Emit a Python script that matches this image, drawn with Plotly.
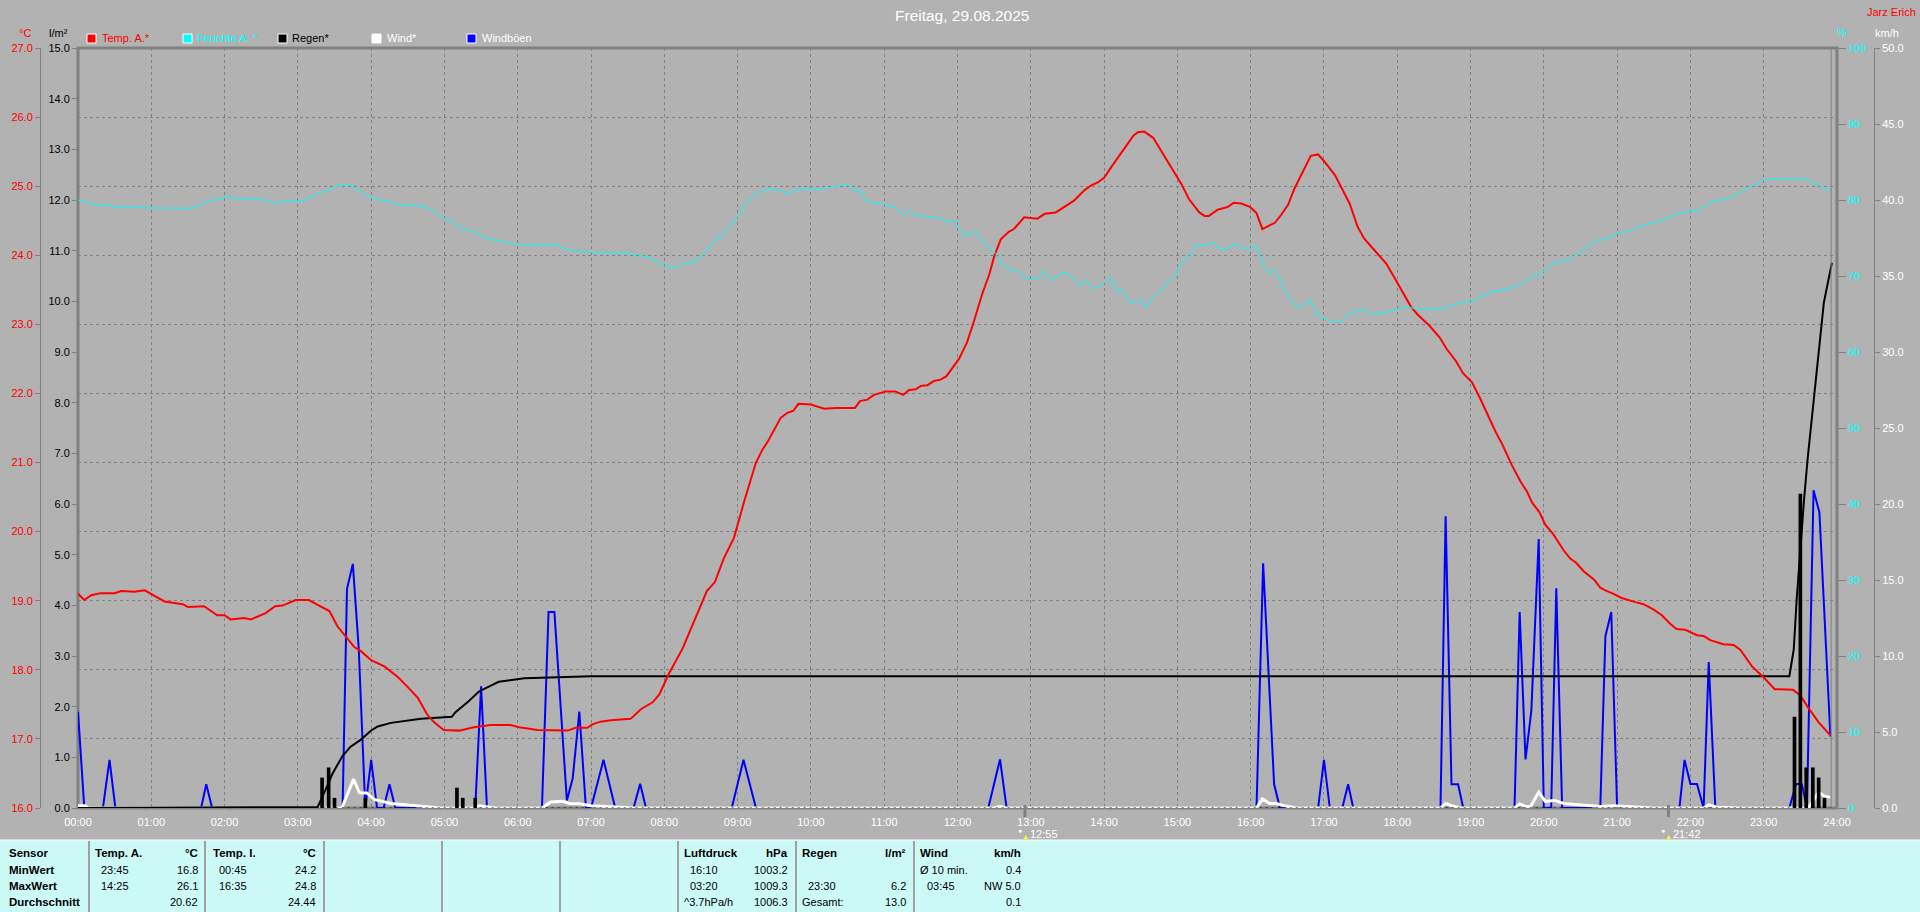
import plotly.graph_objects as go

TITLE = "Freitag, 29.08.2025"
OWNER = "Jarz Erich"
HOUR_TICKS = list(range(25))
HOUR_LABELS = [f"{h:02d}:00" for h in HOUR_TICKS]

temp_h = [0,0.086,0.18,0.31,0.5,0.59,0.77,0.91,1.18,1.43,1.5,1.72,1.9,2.0,2.08,2.27,2.36,2.56,2.69,2.79,2.97,3.15,3.27,3.43,3.54,3.63,3.77,3.86,4.0,4.18,4.36,4.5,4.64,4.76,4.86,4.99,5.2,5.4,5.63,5.9,6.02,6.27,6.68,6.79,6.95,7.02,7.13,7.27,7.54,7.68,7.84,7.93,8.06,8.25,8.38,8.52,8.58,8.69,8.81,8.95,9.09,9.25,9.34,9.41,9.59,9.68,9.76,9.83,10.0,10.18,10.34,10.6,10.67,10.77,10.86,11.02,11.15,11.26,11.34,11.43,11.5,11.59,11.68,11.77,11.85,12.02,12.13,12.22,12.34,12.43,12.5,12.59,12.7,12.77,12.91,13.09,13.19,13.34,13.59,13.73,13.82,13.92,14.0,14.1,14.26,14.4,14.46,14.55,14.67,14.76,14.87,14.96,15.05,15.16,15.3,15.37,15.43,15.55,15.69,15.77,15.87,15.99,16.08,16.16,16.33,16.42,16.51,16.6,16.71,16.82,16.92,17.01,17.15,17.26,17.35,17.46,17.55,17.65,17.78,17.85,17.96,18.1,18.19,18.28,18.44,18.58,18.67,18.8,18.9,19.02,19.13,19.34,19.43,19.56,19.68,19.77,19.84,19.94,20.02,20.13,20.27,20.36,20.44,20.54,20.69,20.77,20.84,20.95,21.06,21.25,21.36,21.5,21.61,21.72,21.81,21.93,22.09,22.18,22.27,22.45,22.59,22.68,22.84,23.0,23.15,23.4,23.5,23.61,23.75,23.91]
temp_c = [19.10,19.01,19.08,19.11,19.11,19.14,19.13,19.15,18.99,18.95,18.91,18.92,18.79,18.79,18.73,18.75,18.73,18.82,18.92,18.93,19.01,19.01,18.94,18.85,18.63,18.51,18.33,18.27,18.14,18.05,17.9,17.75,17.59,17.36,17.24,17.13,17.12,17.17,17.2,17.2,17.17,17.13,17.12,17.16,17.16,17.21,17.25,17.27,17.29,17.43,17.53,17.64,17.94,18.31,18.64,18.99,19.14,19.27,19.61,19.91,20.44,21.0,21.19,21.3,21.65,21.72,21.75,21.85,21.84,21.78,21.79,21.79,21.89,21.91,21.98,22.03,22.03,21.98,22.05,22.06,22.11,22.12,22.18,22.2,22.25,22.5,22.74,23.03,23.45,23.71,23.98,24.23,24.34,24.38,24.55,24.53,24.6,24.62,24.79,24.94,25.01,25.06,25.12,25.28,25.52,25.73,25.78,25.79,25.7,25.54,25.36,25.19,25.04,24.81,24.62,24.57,24.57,24.66,24.7,24.76,24.75,24.7,24.61,24.38,24.47,24.59,24.73,24.97,25.2,25.44,25.46,25.35,25.16,24.94,24.75,24.41,24.24,24.12,23.97,23.88,23.68,23.42,23.25,23.14,22.98,22.81,22.65,22.47,22.29,22.16,21.93,21.45,21.27,20.97,20.73,20.58,20.42,20.28,20.1,19.96,19.73,19.61,19.55,19.43,19.3,19.19,19.15,19.1,19.04,18.98,18.95,18.87,18.79,18.67,18.59,18.58,18.5,18.49,18.43,18.37,18.36,18.29,18.05,17.89,17.72,17.71,17.63,17.45,17.24,17.05]

hum_h = [0,0.18,0.36,0.63,1.0,1.54,1.81,2.06,2.18,2.52,2.65,2.86,3.07,3.27,3.61,3.72,4.0,4.2,4.38,4.68,4.81,5.02,5.22,5.43,5.59,5.86,6.02,6.52,6.63,6.86,7.22,7.61,7.81,8.0,8.15,8.27,8.36,8.5,8.7,8.79,9.0,9.09,9.22,9.34,9.54,9.68,9.88,10.18,10.5,10.59,10.67,10.76,11.02,11.15,11.26,11.34,11.43,11.52,11.61,11.7,11.86,11.95,12.09,12.25,12.34,12.52,12.59,12.75,12.82,12.93,13.0,13.11,13.18,13.27,13.45,13.56,13.67,13.75,13.84,13.95,14.09,14.17,14.25,14.34,14.51,14.57,14.67,14.76,14.85,14.99,15.07,15.16,15.25,15.44,15.51,15.59,15.67,15.8,15.9,15.99,16.07,16.17,16.25,16.33,16.46,16.59,16.67,16.81,16.92,17.05,17.24,17.35,17.55,17.68,17.85,18.1,18.4,18.65,18.86,19.0,19.13,19.29,19.56,19.7,19.84,19.95,20.13,20.34,20.54,20.72,20.84,21.0,21.2,21.4,21.59,21.77,21.88,22.09,22.29,22.59,22.81,23.02,23.27,23.5,23.63,23.77,23.91]
hum_pct = [80.0,79.5,79.3,79.06,78.95,78.9,79.9,80.5,80.2,80.1,79.6,79.87,79.87,80.8,82.07,81.9,80.35,79.87,79.4,79.17,78.85,77.5,76.4,75.7,74.9,74.4,74.1,74.06,73.6,73.2,73.04,72.9,72.35,71.4,71.05,71.8,71.7,72.5,74.8,75.3,77.8,79.2,80.6,81.3,81.4,80.9,81.5,81.5,82.1,81.2,81.4,79.8,79.4,79.06,78.0,78.6,77.9,78.0,77.7,77.9,77.2,77.3,75.3,75.9,74.4,73.04,71.7,70.6,70.6,69.65,69.5,69.8,70.7,69.45,70.4,69.9,68.75,69.5,68.3,68.7,69.8,68.05,68.2,66.5,66.75,65.9,67.2,67.9,69.05,70.3,72.0,72.45,74.1,74.15,74.4,73.4,73.6,74.2,73.6,73.6,74.05,71.6,70.3,70.8,68.2,66.3,65.8,66.9,64.8,64.2,63.9,65.1,65.6,64.9,65.2,65.9,65.6,65.8,66.55,66.6,67.25,67.9,68.45,69.05,70.0,70.26,71.6,72.2,73.4,74.7,74.8,75.55,76.1,76.8,77.25,78.05,78.35,78.6,79.7,80.5,81.7,82.7,82.8,82.8,82.55,81.9,81.2]

rain_h = [0,3.27,3.4,3.47,3.61,3.72,3.86,4.0,4.09,4.27,4.68,5.1,5.15,5.31,5.47,5.63,5.74,6.09,6.45,7.0,23.35,23.41,23.45,23.48,23.52,23.55,23.6,23.65,23.71,23.77,23.82,23.88,23.93]
rain_mm = [0,0.02,0.43,0.67,1.03,1.21,1.35,1.53,1.61,1.68,1.76,1.8,1.89,2.08,2.3,2.42,2.49,2.56,2.58,2.6,2.6,3.13,4.12,4.73,5.59,6.08,6.9,7.64,8.45,9.27,9.97,10.38,10.76]

rainbar_h = [3.33,3.42,3.5,3.92,5.17,5.25,5.42,23.42,23.5,23.58,23.67,23.75,23.83]
rainbar_mm = [0.6,0.8,0.2,0.2,0.4,0.2,0.2,1.8,6.2,0.8,0.8,0.6,0.2]

gust_h = [0,0.086,0.34,0.43,0.51,1.68,1.75,1.83,3.61,3.67,3.75,3.83,3.92,4.0,4.08,4.17,4.25,4.33,5.42,5.5,5.58,6.33,6.42,6.5,6.67,6.75,6.84,6.93,7.0,7.17,7.33,7.58,7.67,7.75,8.92,9.08,9.25,12.42,12.58,12.67,16.08,16.17,16.32,16.4,16.92,17.0,17.08,17.25,17.33,17.4,18.59,18.66,18.74,18.83,18.9,19.6,19.67,19.75,19.83,19.93,20.0,20.1,20.17,20.25,20.77,20.84,20.92,21.0,21.85,21.92,22.0,22.09,22.18,22.25,22.34,23.35,23.44,23.52,23.59,23.68,23.76,23.91]
gust_kmh = [6.34,0,0,3.17,0,0,1.56,0,0,14.4,16.06,10.5,0,3.17,0,0,1.56,0,0,8.0,0,0,12.9,12.9,0.5,1.96,6.34,0,0,3.17,0,0,1.6,0,0,3.17,0,0,3.2,0,0,16.1,1.56,0,0,3.17,0,0,1.56,0,0,19.2,1.56,1.56,0,0,12.9,3.2,6.4,17.7,0,0,14.46,0,0,11.3,12.9,0,0,3.16,1.58,1.58,0,9.6,0,0,1.58,1.58,0,20.9,19.45,4.7]

wind_h = [0,0.1,0.14,3.6,3.76,3.84,3.94,4.04,4.27,4.58,4.95,5.4,5.47,5.7,6.33,6.45,6.62,6.7,6.84,7.0,7.18,7.6,12.5,12.58,12.66,16.08,16.16,16.26,16.35,16.46,16.62,18.59,18.66,18.74,18.85,19.6,19.67,19.75,19.82,19.93,20.02,20.15,20.27,20.5,20.77,20.95,21.5,22.18,22.25,22.36,22.68,23.61,23.75,23.82,23.91]
wind_kmh = [0.15,0.15,0,0,1.9,1.0,0.99,0.57,0.3,0.15,0,0,0.15,0,0,0.4,0.45,0.3,0.28,0.15,0.1,0,0,0.1,0,0,0.6,0.3,0.3,0.15,0,0,0.3,0.15,0,0,0.27,0.1,0.1,1.04,0.44,0.5,0.3,0.2,0.1,0.15,0,0,0.2,0.05,0,0,1.04,0.8,0.7]

LEGEND_NAMES = ["Temp. A.*", "Feuchte A. *", "Regen*", "Wind*", "Windböen"]
LEGEND_FILL = ["#ff0000", "#00ffff", "#000000", "#ffffff", "#0000ff"]
LEGEND_TEXT = ["#ff0000", "#00ffff", "#000000", "#ffffff", "#ffffff"]

TABLE_LABELS = ["Sensor", "MinWert", "MaxWert", "Durchschnitt"]
COL_TEMP_A = ["Temp. A.", "23:45", "14:25", ""]
VAL_TEMP_A = ["°C", "16.8", "26.1", "20.62"]
COL_TEMP_I = ["Temp. I.", "00:45", "16:35", ""]
VAL_TEMP_I = ["°C", "24.2", "24.8", "24.44"]
COL_PRESS = ["Luftdruck", "16:10", "03:20", "^3.7hPa/h"]
VAL_PRESS = ["hPa", "1003.2", "1009.3", "1006.3"]
COL_RAIN = ["Regen", "", "23:30", "Gesamt:"]
VAL_RAIN = ["l/m²", "", "6.2", "13.0"]
COL_WIND = ["Wind", "Ø 10 min.", "03:45", ""]
VAL_WIND = ["km/h", "0.4", "NW 5.0", "0.1"]

W, H = 1920, 912
L, R, T, B = 78, 1837, 48, 808
BG, GRAY, PANEL = "#b2b2b2", "#808080", "#ccfbf7"
FONT = "Liberation Sans"
px = lambda v: v / W
py = lambda v: 1 - v / H

fig = go.Figure()
fig.add_trace(go.Scatter(x=gust_h, y=gust_kmh, name="Windböen", yaxis="y", mode="lines", cliponaxis=False,
                         line=dict(color="#0000ff", width=2)))
fig.add_trace(go.Scatter(x=wind_h, y=wind_kmh, name="Wind", yaxis="y", mode="lines", cliponaxis=False,
                         line=dict(color="#ffffff", width=3)))
fig.add_trace(go.Scatter(x=rain_h, y=rain_mm, name="Regen", yaxis="y2", mode="lines", cliponaxis=False,
                         line=dict(color="#000000", width=2)))
fig.add_trace(go.Scatter(x=[rain_h[1], rain_h[-1]], y=[0, 0], name="Regen 0", yaxis="y2", mode="lines", cliponaxis=False,
                         line=dict(color="#000000", width=1, dash="2px,4px")))
fig.add_trace(go.Scatter(x=temp_h, y=temp_c, name="Temp. A.", yaxis="y3", mode="lines",
                         line=dict(color="#ff0000", width=2)))
fig.add_trace(go.Scatter(x=hum_h, y=hum_pct, name="Feuchte A.", yaxis="y4", mode="lines",
                         line=dict(color="#00ffff", width=1)))
fig.add_trace(go.Bar(x=rainbar_h, y=rainbar_mm, name="Regen/5min", yaxis="y5", width=0.05,
                     marker=dict(color="#000000", line=dict(width=0))))

dom = [py(B), py(T)]
tf = dict(family=FONT, size=11)
fig.update_layout(
    width=W, height=H, margin=dict(l=0, r=0, t=0, b=0, pad=0, autoexpand=False), showlegend=False, autosize=False,
    paper_bgcolor=BG, plot_bgcolor=BG, font=dict(family=FONT, size=11), barmode="overlay",
    xaxis=dict(domain=[px(L), px(R)], range=[0, 24], tickvals=HOUR_TICKS, ticktext=HOUR_LABELS,
               tickfont=dict(color="#ffffff", **tf), ticks="outside", ticklen=4, tickcolor=BG, tickangle=0,
               showgrid=True, gridcolor=GRAY, griddash="3px,3px", gridwidth=1, zeroline=False),
    yaxis=dict(domain=dom, range=[0, 50], tickvals=list(range(0, 55, 5)), tickformat=".1f", side="right",
               anchor="free", position=px(1874), tickfont=dict(color="#ffffff", **tf), ticks="outside", ticklen=5,
               tickcolor=GRAY, showline=True, linecolor=GRAY, linewidth=1, showgrid=False, zeroline=False),
    yaxis2=dict(domain=dom, range=[0, 15], tickvals=list(range(16)), tickformat=".1f", overlaying="y", side="left",
                anchor="x", tickfont=dict(color="#000000", **tf), ticks="outside", ticklen=5, tickcolor=GRAY,
                showgrid=False, zeroline=False),
    yaxis3=dict(domain=dom, range=[16, 27], tickvals=list(range(16, 28)), tickformat=".1f", overlaying="y", side="left",
                anchor="free", position=px(40), tickfont=dict(color="#ff0000", **tf), ticks="outside", ticklen=5,
                tickcolor=GRAY, showline=True, linecolor=GRAY, linewidth=1, showgrid=True, gridcolor=GRAY,
                griddash="3px,3px", gridwidth=1, zeroline=False),
    yaxis4=dict(domain=dom, range=[0, 100], tickvals=list(range(0, 110, 10)), overlaying="y", side="right",
                anchor="x", tickfont=dict(color="#00ffff", **tf), ticks="outside", ticklen=8, tickcolor=GRAY,
                showgrid=False, zeroline=False),
    yaxis5=dict(domain=dom, range=[0, 15], overlaying="y", visible=False),
)

shapes = [
    dict(type="rect", xref="paper", yref="paper", x0=px(L), x1=px(R), y0=py(B), y1=py(T),
         line=dict(color=GRAY, width=3), layer="below"),
    dict(type="line", xref="x", yref="paper", x0=23.92, x1=23.92, y0=py(B), y1=py(T), line=dict(color=GRAY, width=1)),
    dict(type="rect", xref="paper", yref="paper", x0=0, x1=1, y0=0, y1=py(840), fillcolor=PANEL, line=dict(width=0)),
    dict(type="line", xref="paper", yref="paper", x0=0, x1=1, y0=py(840), y1=py(840), line=dict(color="#ffffff", width=1)),
    dict(type="line", xref="x", yref="paper", x0=12.92, x1=12.92, y0=py(805), y1=py(817), line=dict(color=GRAY, width=3)),
    dict(type="line", xref="x", yref="paper", x0=21.7, x1=21.7, y0=py(805), y1=py(817), line=dict(color=GRAY, width=3)),
]
for sep in [89, 205, 324, 442, 560, 678, 796, 914]:
    shapes.append(dict(type="line", xref="paper", yref="paper", x0=px(sep), x1=px(sep), y0=0, y1=py(841),
                       line=dict(color="#a0a0a0", width=2)))
for fill, x0 in zip(LEGEND_FILL, [87, 183, 278, 372, 467]):
    shapes.append(dict(type="rect", xref="paper", yref="paper", x0=px(x0), x1=px(x0 + 9), y0=py(43), y1=py(34),
                       fillcolor=fill, line=dict(color="#ffffff", width=1)))
fig.update_layout(shapes=shapes)

notes = []
def note(text, x, y, color="#000000", size=11, anchor="left", bold=False):
    if not text:
        return
    notes.append(dict(text=f"<b>{text}</b>" if bold else text, xref="paper", yref="paper", x=px(x), y=py(y),
                      xanchor=anchor, yanchor="middle", showarrow=False, align=anchor, borderpad=0, borderwidth=0,
                      font=dict(family=FONT, size=size, color=color)))

note(TITLE, 962, 15, "#ffffff", 15.5, "center")
note(OWNER, 1916, 12, "#ff0000", 11, "right")
note("°C", 25, 33, "#ff0000", 11, "center")
note("l/m²", 58, 33, "#000000", 11, "center")
note("%", 1842, 32, "#00ffff", 11, "center")
note("km/h", 1887, 33, "#ffffff", 11, "center")
for name, color, x in zip(LEGEND_NAMES, LEGEND_TEXT, [102, 197, 292, 386.5, 481.5]):
    note(name, x, 38, color)
note("●", 1020, 830, "#ffffff", 7, "center")
note("▲", 1025, 836, "#ffff00", 7, "center")
note("12:55", 1030, 834, "#ffffff")
note("●", 1663, 830, "#ffffff", 7, "center")
note("▲", 1668, 836, "#ffff00", 7, "center")
note("21:42", 1673, 834, "#ffffff")

rows_y = [853, 870, 886, 902]
for y, t in zip(rows_y, TABLE_LABELS):
    note(t, 8.5, y, bold=True, size=11.5)
for col, val, xl, xli, xr in [
    (COL_TEMP_A, VAL_TEMP_A, 95, 100.7, 197.5),
    (COL_TEMP_I, VAL_TEMP_I, 213, 218.6, 316.4),
    (COL_PRESS, VAL_PRESS, 684.3, 690.4, 787.9),
    (COL_RAIN, VAL_RAIN, 802, 808, 905.7),
    (COL_WIND, VAL_WIND, 920, 926.8, 1021.4),
]:
    for i, (y, c, v) in enumerate(zip(rows_y, col, val)):
        x = xl if (i == 0 or c in ("^3.7hPa/h", "Gesamt:", "Ø 10 min.")) else xli
        note(c, x, y, bold=(i == 0), size=11.5 if i == 0 else 11)
        note(v, xr, y, anchor="right", bold=(i == 0), size=11.5 if i == 0 else 11)
fig.update_layout(annotations=notes)

fig.write_html("out.html", config=dict(displayModeBar=False),
               post_script="document.body.style.margin='0';document.body.style.overflow='hidden';")
